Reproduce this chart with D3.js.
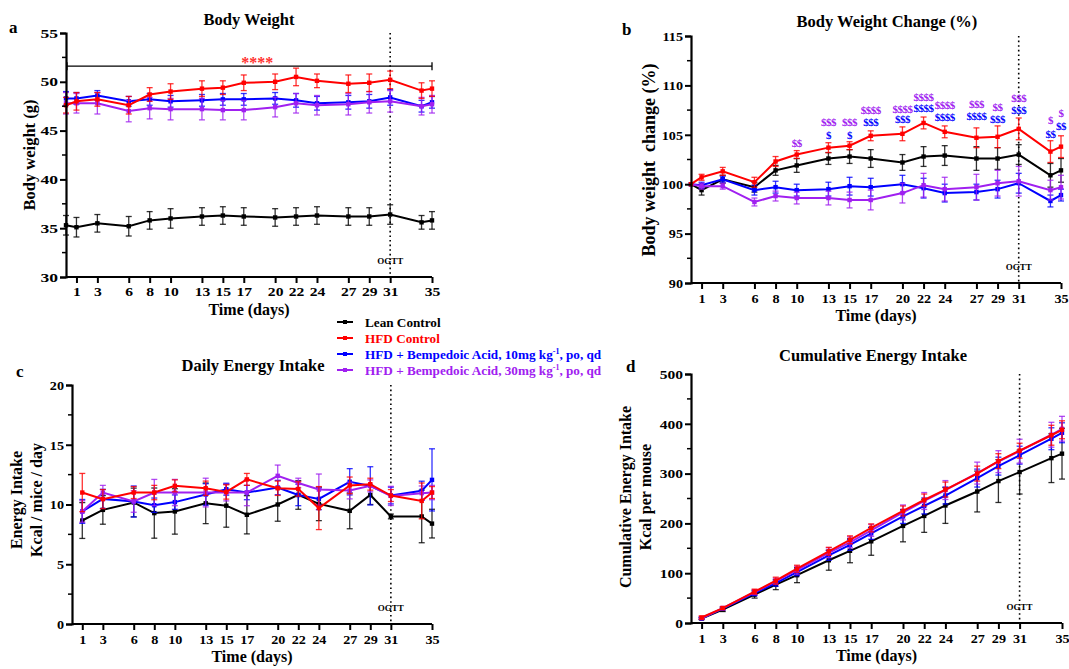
<!DOCTYPE html>
<html><head><meta charset="utf-8">
<script src="https://cdn.jsdelivr.net/npm/d3@7"></script>
<style>
body{margin:0;background:#fff;}
svg text{font-family:"Liberation Serif","Times New Roman",serif;font-weight:bold;white-space:pre;}
</style></head>
<body><svg id="c" width="1069" height="669"></svg>
<script>
// ---------- data ----------
const seriesNames = ["Lean Control","HFD Control","HFD + Bempedoic Acid, 10mg kg","HFD + Bempedoic Acid, 30mg kg"];
const seriesColors = ["#000000","#ff0000","#0000ff","#a020f0"];
const tickDays = [1,3,6,8,10,13,15,17,20,22,24,27,29,31,35];
const daysAB = [0,1,3,6,8,10,13,15,17,20,22,24,27,29,31,34,35];
const daysCD = [1,3,6,8,10,13,15,17,20,22,24,27,29,31,34,35];

// Panel a: Body weight (g)
const bwLean   = [35.3,35.1,35.5,35.2,35.8,36.0,36.2,36.3,36.2,36.1,36.2,36.3,36.2,36.2,36.4,35.6,35.8];
const bwHFD    = [47.6,48.0,48.2,47.6,48.7,49.0,49.3,49.4,49.9,50.0,50.5,50.1,49.8,49.9,50.2,49.1,49.3];
const bwBA10   = [48.3,48.3,48.6,48.0,48.2,48.0,48.1,48.2,48.2,48.3,48.1,47.8,47.9,48.0,48.4,47.5,47.9];
const bwBA30   = [47.8,47.8,47.8,47.0,47.3,47.2,47.2,47.1,47.1,47.4,47.8,47.6,47.7,47.9,48.0,47.5,47.7];
const bwLeanE  = [1.0,1.0,0.9,1.0,0.9,1.0,0.9,0.9,0.9,0.9,0.9,0.9,0.9,0.9,1.0,0.7,0.9];
const bwHFDE   = [0.8,0.9,0.7,0.9,0.7,0.8,0.8,0.7,0.8,0.8,0.9,0.7,0.9,0.9,0.9,0.8,0.8];
const bwBA10E  = [0.7,0.6,0.5,0.5,0.6,0.6,0.6,0.6,0.6,0.6,0.7,0.7,0.7,0.7,0.8,0.6,0.6];
const bwBA30E  = [1.1,1.0,1.1,1.1,1.1,1.1,1.1,1.0,1.0,1.0,1.0,1.0,1.1,1.1,1.1,0.9,0.9];

// Panel b: Body weight change (%)
const bcLean   = [100,99.4,100.5,99.7,101.4,101.9,102.6,102.8,102.6,102.2,102.8,102.9,102.6,102.6,103.0,100.9,101.4];
const bcHFD    = [100,100.7,101.3,100.2,102.3,103.0,103.7,103.9,104.9,105.1,106.2,105.3,104.7,104.8,105.6,103.3,103.8];
const bcBA10   = [100,99.9,100.5,99.4,99.7,99.4,99.5,99.8,99.7,100.0,99.6,99.1,99.2,99.5,100.1,98.3,98.9];
const bcBA30   = [100,99.8,99.8,98.2,98.8,98.6,98.6,98.4,98.4,99.1,99.9,99.5,99.7,100.1,100.3,99.4,99.7];
const bcLeanE  = [0,0.5,0.4,0.5,0.5,0.7,0.6,0.7,0.9,0.8,1.0,1.0,1.2,1.1,1.0,1.2,1.2];
const bcHFDE   = [0,0.3,0.4,0.5,0.5,0.4,0.5,0.4,0.5,0.7,0.6,0.6,1.0,1.1,1.1,1.1,1.1];
const bcBA10E  = [0,0.3,0.3,0.5,0.6,0.6,0.7,0.9,0.9,0.9,1.0,0.9,0.8,0.9,1.0,0.6,0.6];
const bcBA30E  = [0,0.3,0.3,0.4,0.5,0.6,0.7,0.8,1.0,1.0,1.2,1.2,1.3,1.3,1.5,1.0,1.2];
const sigDays     = [10,13,15,17,20,22,24,27,29,31,34,35];
const sig30Labels = ["$$","$$$","$$$","$$$$","$$$$","$$$$","$$$$","$$$","$$","$$$","$","$"];
const sig30Y      = [104.2,106.25,106.25,107.5,107.6,108.85,108.0,108.1,107.8,108.7,106.5,107.2];
const sig10Labels = ["","$","$","$$$","$$$","$$$$","$$$$","$$$$","$$$","$$$","$$","$$"];
const sig10Y      = [0,105.0,105.0,106.25,106.6,107.7,106.8,106.9,106.6,107.5,105.1,105.9];

// Panel c: Daily energy intake
const eiLean   = [8.66,9.55,10.17,9.28,9.42,10.1,9.9,9.14,10.0,10.8,10.05,9.47,10.8,9.0,9.0,8.4];
const eiHFD    = [11.0,10.45,11.0,11.0,11.56,11.36,11.05,12.1,11.36,11.3,9.7,11.6,11.7,10.75,10.3,11.0];
const eiBA10   = [9.42,10.47,10.25,9.94,10.2,10.84,11.28,11.0,11.42,10.8,10.47,11.9,11.56,10.75,11.15,12.06];
const eiBA30   = [9.42,11.0,10.25,11.0,11.0,11.0,11.0,11.0,12.4,11.8,11.25,11.17,11.56,10.72,10.95,11.0];
const eiLeanE  = [1.5,1.2,1.2,2.1,1.9,1.7,1.8,1.6,1.4,1.2,1.4,1.5,0.8,0.2,2.2,1.2];
const eiHFDE   = [1.6,0.8,0.5,0.6,0.5,0.6,0.6,0.5,0.6,0.6,1.8,0.7,0.5,0.5,1.5,0.5];
const eiBA10E  = [1.0,0.8,1.3,0.6,0.6,0.9,0.5,0.6,0.6,0.9,0.9,1.1,1.6,0.7,0.8,2.6];
const eiBA30E  = [0.9,0.6,0.9,1.1,1.1,1.2,0.7,1.1,0.9,0.4,1.3,0.7,0.5,0.8,0.6,0.6];

// Panel d: Cumulative energy intake
const ciLean   = [8.7,27,57,77,96,126,145,164,195,215,236,264,285,303,331,340];
const ciHFD    = [11,30,63,85,109,144,167,191,225,247,268,300,325,346,377,388];
const ciBA10   = [9.5,29,60,80,102,136,157,180,214,235,256,291,315,337,370,382];
const ciBA30   = [9.5,30,62,84,106,141,162,186,222,245,267,301,324,345,378,390];
const ciLeanE  = [2,4,7,10,15,20,24,28,32,33,36,41,43,44,49,51];
const ciHFDE   = [3,3,5,7,7,8,8,8,10,12,15,15,15,15,20,18];
const ciBA10E  = [2,3,5,6,7,10,11,12,14,16,17,18,18,18,22,20];
const ciBA30E  = [2,3,5,6,8,10,11,12,15,17,19,22,22,24,25,25];

// ---------- drawing ----------
const svg = d3.select("#c");

function panel(o){
  const g = svg.append("g");
  const x = d3.scaleLinear().domain([0,35]).range([o.x0,o.x1]);
  const y = d3.scaleLinear().domain(o.yDomain).range([o.y0,o.y1]);
  // OGTT line
  g.append("line").attr("x1",x(31)).attr("x2",x(31)).attr("y1",o.y1).attr("y2",o.y0)
    .attr("stroke","#000").attr("stroke-width",1.6).attr("stroke-dasharray","1.6,3");
  g.append("text").attr("x",x(31)).attr("y",o.y0-13).attr("text-anchor","middle")
    .attr("font-size",9).text("OGTT");
  // series
  const order = [0,2,3,1];
  order.forEach(si=>{
    const vals = o.series[si], errs = o.errors[si], col = seriesColors[si];
    const pts = o.days.map((d,i)=>({d, v:vals[i], e:errs[i]}));
    const withErr = pts.filter(p=>p.e>0);
    const sg = g.append("g");
    sg.selectAll("line.eb").data(withErr).join("line").attr("class","eb")
      .attr("x1",p=>x(p.d)).attr("x2",p=>x(p.d)).attr("y1",p=>y(p.v-p.e)).attr("y2",p=>y(p.v+p.e))
      .attr("stroke",col).attr("stroke-width",1.3).attr("opacity",0.8);
    [-1,1].forEach(s=>{
      const cls = s<0 ? "caplo" : "caphi";
      sg.selectAll("line."+cls).data(withErr).join("line").attr("class",cls)
        .attr("x1",p=>x(p.d)-3).attr("x2",p=>x(p.d)+3)
        .attr("y1",p=>y(p.v+s*p.e)).attr("y2",p=>y(p.v+s*p.e))
        .attr("stroke",col).attr("stroke-width",1.3).attr("opacity",0.8);
    });
    sg.append("path").datum(pts).attr("fill","none").attr("stroke",col).attr("stroke-width",2)
      .attr("d",d3.line().x(p=>x(p.d)).y(p=>y(p.v)));
    sg.selectAll("rect.mk").data(pts).join("rect").attr("class","mk")
      .attr("x",p=>x(p.d)-2.2).attr("y",p=>y(p.v)-2.2).attr("width",4.4).attr("height",4.4).attr("fill",col);
  });
  // axes
  const ya = d3.axisLeft(y).tickValues(o.yTicks).tickSize(6).tickPadding(2).tickFormat(d3.format("d"));
  const yag = g.append("g").attr("transform",`translate(${o.x0},0)`).call(ya);
  const xa = d3.axisBottom(x).tickValues(tickDays).tickSize(6).tickPadding(4);
  const xag = g.append("g").attr("transform",`translate(0,${o.y0})`).call(xa);
  [[yag,o.ySX],[xag,o.xSX]].forEach(([a,sx])=>{
    a.select(".domain").attr("stroke-width",2.2);
    a.selectAll(".tick line").attr("stroke-width",2);
    a.selectAll(".tick text").attr("font-size",o.tickFont).attr("font-family","Liberation Serif")
      .attr("font-weight","bold").attr("fill","#000")
      .attr("transform",function(){
        const t=d3.select(this); const xx=+t.attr("x")||0;
        return `translate(${xx},0) scale(${sx},1) translate(${-xx},0)`;
      });
  });
  xag.select(".domain").attr("d",`M${o.x0},0H${o.x1}`);
  // minor ticks
  g.selectAll("line.minor").data(o.yMinor).join("line").attr("class","minor")
    .attr("x1",o.x0-4).attr("x2",o.x0).attr("y1",d=>y(d)).attr("y2",d=>y(d))
    .attr("stroke","#000").attr("stroke-width",1.5);
  // titles
  g.append("text").attr("x",o.titleX).attr("y",o.titleY).attr("text-anchor","middle").attr("font-size",16.5).text(o.title);
  g.append("text").attr("x",o.letterX).attr("y",o.letterY).attr("font-size",17).text(o.letter);
  g.append("text").attr("x",(o.x0+o.x1)/2).attr("y",o.y0+38).attr("text-anchor","middle").attr("font-size",16).text("Time (days)");
  o.ylabels.forEach((t,i)=>{
    g.append("text").attr("transform",`translate(${o.ylabX[i]},${o.ylabY}) rotate(-90)`)
      .attr("text-anchor","middle").attr("font-size",o.ylabFont).text(t);
  });
  return {g,x,y};
}

const pa = panel({x0:66,x1:432,y0:277,y1:33,yDomain:[30,55],yTicks:[30,35,40,45,50,55],
  yMinor:[32.5,37.5,42.5,47.5,52.5],days:daysAB,tickFont:13,ySX:1.35,xSX:1.2,
  series:[bwLean,bwHFD,bwBA10,bwBA30],errors:[bwLeanE,bwHFDE,bwBA10E,bwBA30E],
  title:"Body Weight",titleX:249,titleY:25,letter:"a",letterX:9,letterY:33,
  ylabels:["Body weight (g)"],ylabX:[35],ylabY:155,ylabFont:16.5});
// significance bar panel a
{
  const {g,x,y} = pa;
  const yy = y(51.6);
  g.append("line").attr("x1",x(0)+1).attr("x2",x(35)).attr("y1",yy).attr("y2",yy).attr("stroke","#000").attr("stroke-width",1.3);
  [x(0)+1,x(35)].forEach(xx=>g.append("line").attr("x1",xx).attr("x2",xx).attr("y1",yy-4).attr("y2",yy+4).attr("stroke","#000").attr("stroke-width",1.3));
  g.append("text").attr("x",x(18.3)).attr("y",yy+1.5).attr("text-anchor","middle").attr("font-size",16).attr("fill","#ff3030").text("****");
}

const pb = panel({x0:691,x1:1061,y0:283,y1:36,yDomain:[90,115],yTicks:[90,95,100,105,110,115],
  yMinor:[92.5,97.5,102.5,107.5,112.5],days:daysAB,tickFont:13.5,ySX:1.05,xSX:1.05,
  series:[bcLean,bcHFD,bcBA10,bcBA30],errors:[bcLeanE,bcHFDE,bcBA10E,bcBA30E],
  title:"Body Weight Change (%)",titleX:887,titleY:27,letter:"b",letterX:622,letterY:35,
  ylabels:["Body weight  change (%)"],ylabX:[655],ylabY:160,ylabFont:18});
{
  const {g,x,y} = pb;
  sigDays.forEach((d,i)=>{
    g.append("text").attr("x",x(d)).attr("y",y(sig30Y[i])+4).attr("text-anchor","middle")
      .attr("font-size",11).attr("fill",seriesColors[3]).attr("letter-spacing",-0.5).text(sig30Labels[i]);
    if(sig10Labels[i]) g.append("text").attr("x",x(d)).attr("y",y(sig10Y[i])+4).attr("text-anchor","middle")
      .attr("font-size",11).attr("fill",seriesColors[2]).attr("letter-spacing",-0.5).text(sig10Labels[i]);
  });
}

panel({x0:72,x1:432,y0:624,y1:385,yDomain:[0,20],yTicks:[0,5,10,15,20],
  yMinor:[2.5,7.5,12.5,17.5],days:daysCD,tickFont:13.5,ySX:1.05,xSX:1.05,
  series:[eiLean,eiHFD,eiBA10,eiBA30],errors:[eiLeanE,eiHFDE,eiBA10E,eiBA30E],
  title:"Daily Energy Intake",titleX:253,titleY:371,letter:"c",letterX:16,letterY:377,
  ylabels:["Energy Intake","Kcal / mice / day"],ylabX:[22,42],ylabY:500,ylabFont:16});

panel({x0:691,x1:1062,y0:623,y1:374,yDomain:[0,500],yTicks:[0,100,200,300,400,500],
  yMinor:[50,150,250,350,450],days:daysCD,tickFont:13.5,ySX:1.15,xSX:1.05,
  series:[ciLean,ciHFD,ciBA10,ciBA30],errors:[ciLeanE,ciHFDE,ciBA10E,ciBA30E],
  title:"Cumulative Energy Intake",titleX:873,titleY:361,letter:"d",letterX:626,letterY:372,
  ylabels:["Cumulative Energy Intake","Kcal per mouse"],ylabX:[631,651],ylabY:497,ylabFont:16});

// legend
const lg = svg.append("g");
seriesNames.forEach((n,i)=>{
  const yy = 322 + i*16;
  lg.append("line").attr("x1",337).attr("x2",353).attr("y1",yy).attr("y2",yy).attr("stroke",seriesColors[i]).attr("stroke-width",2);
  lg.append("rect").attr("x",343).attr("y",yy-2).attr("width",4).attr("height",4).attr("fill",seriesColors[i]);
  const t = lg.append("text").attr("x",365).attr("y",yy+4.5).attr("font-size",13.2).attr("fill",seriesColors[i]);
  t.append("tspan").text(n);
  if(i>=2){
    t.append("tspan").attr("font-size",8).attr("dy",-5).text("-1");
    t.append("tspan").attr("dy",5).text(", po, qd");
  }
});
</script></body></html>
